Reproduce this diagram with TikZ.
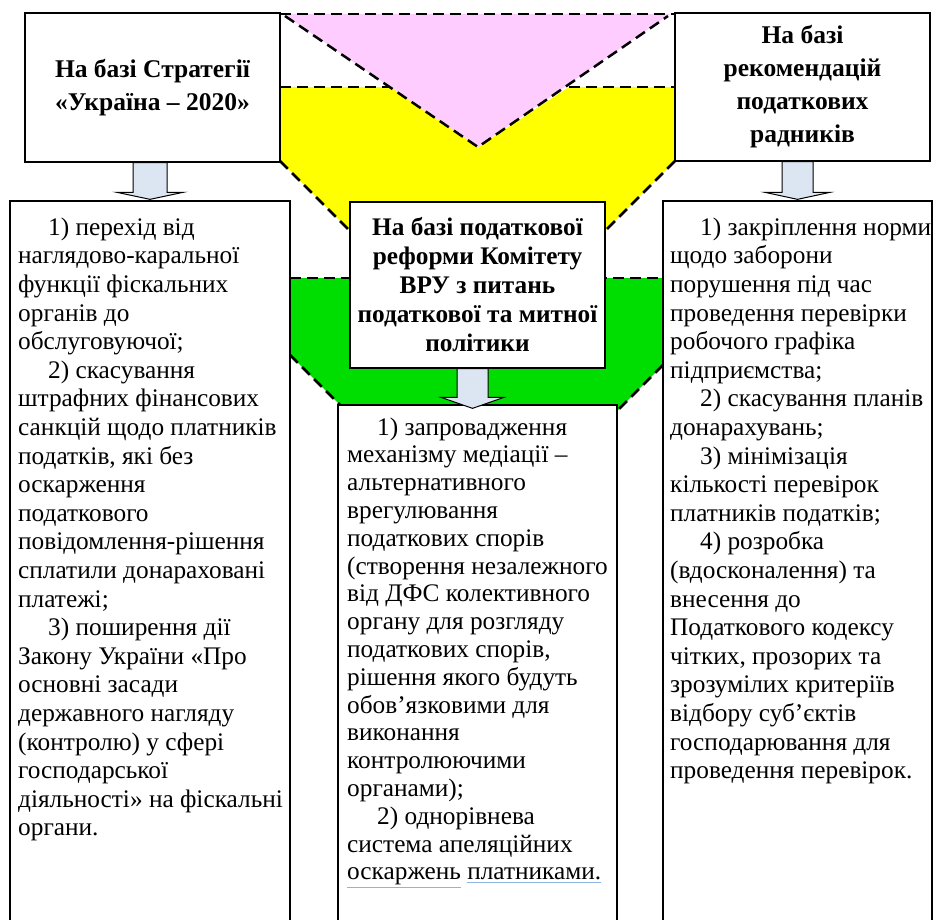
\documentclass[tikz,border=0pt]{standalone}
\usepackage{fontspec}
\setmainfont{Liberation Serif}
\usetikzlibrary{calc}
\definecolor{pinkf}{HTML}{FFCCFF}
\definecolor{yelf}{HTML}{FFFF00}
\definecolor{grnf}{HTML}{00DD00}
\definecolor{arrf}{HTML}{DCE6F2}
\definecolor{ulblue}{HTML}{8DB4E2}
\tikzset{
 box/.style={draw=black, line width=1.3pt, fill=white, inner sep=0pt},
 title/.style={align=center, font=\fontsize{25.5}{33}\selectfont\bfseries},
 body/.style={align=left, inner sep=0pt, anchor=north west, font=\fontsize{25.3}{28.6}\selectfont},
 dline/.style={line width=2.5pt, dash pattern=on 11pt off 6pt, line join=miter},
 barrow/.style={draw=black, line width=1pt, fill=arrf, line join=miter},
}
% #1 source node, #2 target node, #3 x shift, #4 tip offset (up), #5 shaft half, #6 head half, #7 head base above target
\newcommand{\blockarr}[7]{%
 \draw[barrow] let \p1=([xshift=#3]#1.south), \p2=(#2.north) in
  (\x1-#5,\y1) -- (\x1+#5,\y1) -- (\x1+#5,\y2+#7) -- (\x1+#6,\y2+#7) -- (\x1,\y2+#4)
  -- (\x1-#6,\y2+#7) -- (\x1-#5,\y2+#7) -- cycle;}
\newcommand{\bul}[1]{\textcolor{ulblue}{\underline{\textcolor{black}{#1}}}}
\begin{document}
\begin{tikzpicture}[x=1pt,y=-1pt]
\clip (0,0) rectangle (934,920);
\fill[white] (0,0) rectangle (934,920);
% coloured funnel areas
\fill[yelf] (280,87) -- (390,87) -- (478,147) -- (569,87) -- (675,87) -- (675,161)
  -- (477.5,358.5) -- (280,161) -- cycle;
\fill[pinkf] (283,14) -- (670,14) -- (478,147) -- cycle;
\fill[grnf] (290,278) -- (663,278) -- (663,365) -- (481.5,546.5) -- (290,355) -- cycle;
% dashed outlines
\draw[dline] (280,14) -- (675,14);
\draw[dline] (285,16) -- (478,147) -- (668,16);
\draw[dline] (280,87) -- (390,87);
\draw[dline] (569,87) -- (675,87);
\draw[dline] (280,161) -- (360,241);
\draw[dline] (675,161) -- (595,241);
\draw[dline] (290,278) -- (663,278);
\draw[dline] (290,355) -- (350,415);
\draw[dline] (663,365) -- (605,423);
% top boxes
\node[box, title, minimum width=255pt, minimum height=149pt] (T1) at (152.5,87.5)
 {На базі Стратегії\\«Україна – 2020»};
\node[box, title, minimum width=255pt, minimum height=148pt] (T3) at (802.5,87)
 {На базі\\рекомендацій\\податкових\\радників};
\node[box, title, font=\fontsize{25.3}{29}\selectfont\bfseries, minimum width=255pt, minimum height=166pt] (T2) at (477.5,285)
 {На базі податкової\\реформи Комітету\\ВРУ з питань\\податкової та митної\\політики};
% content boxes
\node[box, minimum width=280pt, minimum height=744pt] (L) at (150,573) {};
\node[box, minimum width=279pt, minimum height=540pt] (C) at (477.5,675) {};
\node[box, minimum width=269pt, minimum height=744pt] (R) at (797.5,573) {};
% block arrows
\blockarr{T1}{L}{-2.5pt}{1pt}{17pt}{33pt}{8pt}
\blockarr{T3}{R}{-5pt}{1pt}{15.5pt}{32.5pt}{8pt}
\blockarr{T2}{C}{-5pt}{-4pt}{15.5pt}{31.5pt}{7pt}
% texts
\node[body] (Lt) at (18,215) {\strut\hspace*{30pt}1) перехід від\\
наглядово-каральної\\
функції фіскальних\\
органів до\\
обслуговуючої;\\
\hspace*{30pt}2) скасування\\
штрафних фінансових\\
санкцій щодо платників\\
податків, які без\\
оскарження\\
податкового\\
повідомлення-рішення\\
сплатили донараховані\\
платежі;\\
\hspace*{30pt}3) поширення дії\\
Закону України «Про\\
основні засади\\
державного нагляду\\
(контролю) у сфері\\
господарської\\
діяльності» на фіскальні\\
органи.};
\node[body, font=\fontsize{25.3}{27.8}\selectfont] (Ct) at (347,415.5) {\strut\hspace*{30pt}1) запровадження\\
механізму медіації –\\
альтернативного\\
врегулювання\\
податкових спорів\\
(створення незалежного\\
від ДФС колективного\\
органу для розгляду\\
податкових спорів,\\
рішення якого будуть\\
обов’язковими для\\
виконання\\
контролюючими\\
органами);\\
\hspace*{30pt}2) однорівнева\\
система апеляційних\\
\bul{оскаржень} \bul{платниками.}};
\node[body] (Rt) at (670,215) {\strut\hspace*{30pt}1) закріплення норми\\
щодо заборони\\
порушення під час\\
проведення перевірки\\
робочого графіка\\
підприємства;\\
\hspace*{30pt}2) скасування планів\\
донарахувань;\\
\hspace*{30pt}3) мінімізація\\
кількості перевірок\\
платників податків;\\
\hspace*{30pt}4) розробка\\
(вдосконалення) та\\
внесення до\\
Податкового кодексу\\
чітких, прозорих та\\
зрозумілих критеріїв\\
відбору суб’єктів\\
господарювання для\\
проведення перевірок.};
\end{tikzpicture}
\end{document}
